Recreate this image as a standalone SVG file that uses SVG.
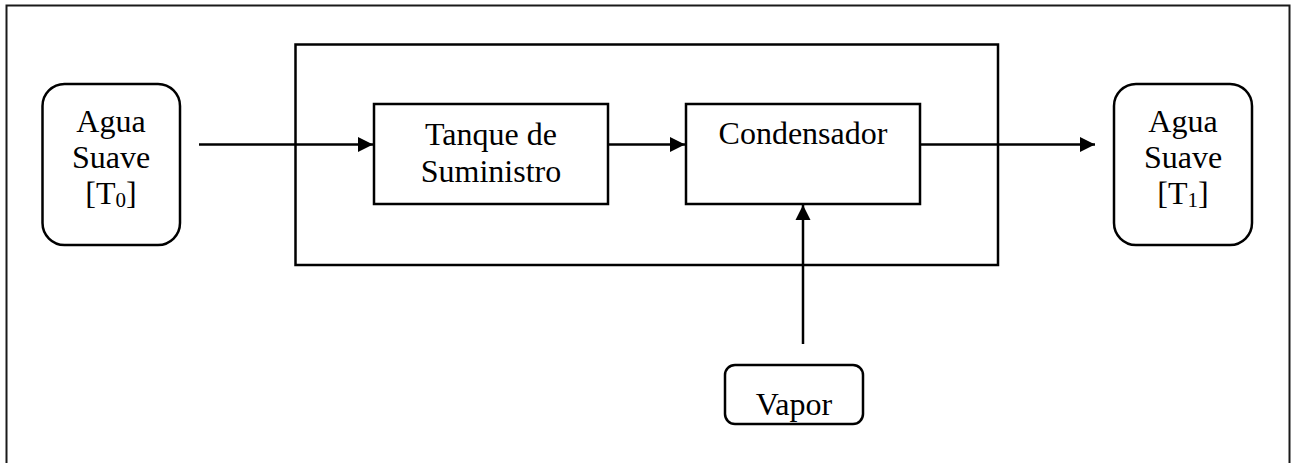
<svg xmlns="http://www.w3.org/2000/svg" width="1295" height="463" viewBox="0 0 1295 463">
<style>
.box{fill:#fff;stroke:#000;stroke-width:2.5}
.frame{fill:none;stroke:#1a1a1a;stroke-width:2}
.t{font-family:"Liberation Serif","Times New Roman",serif;font-size:32px;fill:#000;text-anchor:middle}
.sub{font-size:21px}
.c{fill:none;stroke:#000;stroke-width:2.5}
</style>
<defs>
<marker id="ah" markerUnits="userSpaceOnUse" markerWidth="16" markerHeight="16" refX="15" refY="8" orient="auto">
<path d="M0,0.5 L15,8 L0,15.5 Z" fill="#000"/>
</marker>
</defs>
<rect class="frame" x="6.5" y="5.5" width="1283" height="480"/>
<g id="system">
<rect class="box" x="295.5" y="44.5" width="702.5" height="220.5" fill="none" style="fill:none"/>
</g>
<g id="connectors">
<line class="c" x1="199" y1="144.5" x2="373" y2="144.5" marker-end="url(#ah)"/>
<line class="c" x1="608" y1="144.5" x2="685" y2="144.5" marker-end="url(#ah)"/>
<line class="c" x1="920" y1="144.5" x2="1095" y2="144.5" marker-end="url(#ah)"/>
<line class="c" x1="803" y1="344" x2="803" y2="205" marker-end="url(#ah)"/>
</g>
<g id="agua-t0">
<rect class="box" x="42.5" y="84" width="137.5" height="161" rx="22" ry="22"/>
<text class="t" x="111" y="131.5">Agua</text>
<text class="t" x="111" y="167.5">Suave</text>
<text class="t" x="111" y="203.5">[T<tspan class="sub" dy="3">0</tspan><tspan dy="-3">]</tspan></text>
</g>
<g id="tanque">
<rect class="box" x="374" y="104" width="234" height="100"/>
<text class="t" x="491" y="145">Tanque de</text>
<text class="t" x="491" y="182">Suministro</text>
</g>
<g id="condensador">
<rect class="box" x="686" y="104" width="234" height="100"/>
<text class="t" x="803" y="144">Condensador</text>
</g>
<g id="agua-t1">
<rect class="box" x="1114" y="84" width="138" height="161" rx="22" ry="22"/>
<text class="t" x="1183" y="131.5">Agua</text>
<text class="t" x="1183" y="167.5">Suave</text>
<text class="t" x="1183" y="203.5">[T<tspan class="sub" dy="3">1</tspan><tspan dy="-3">]</tspan></text>
</g>
<g id="vapor">
<rect class="box" x="725" y="365" width="138" height="59" rx="10" ry="10"/>
<text class="t" x="794" y="415">Vapor</text>
</g>
</svg>
